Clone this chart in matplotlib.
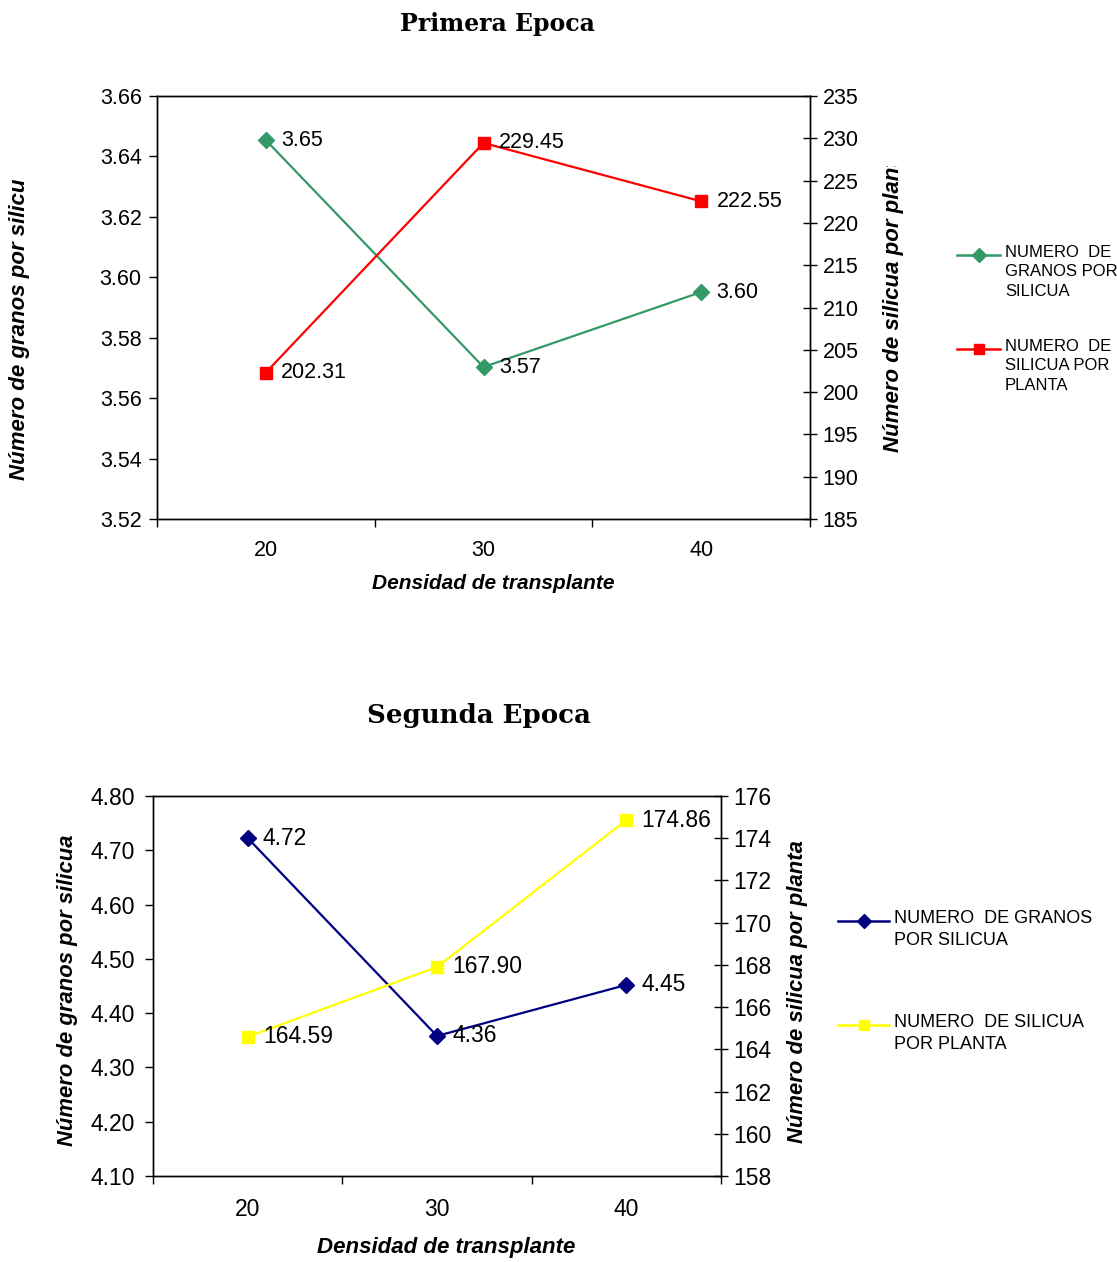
import matplotlib
matplotlib.use('Agg')
import matplotlib.pyplot as plt
from matplotlib.lines import Line2D
from matplotlib.ticker import FormatStrFormatter
from matplotlib.transforms import Bbox, TransformedBbox

# transplant densities (x categories)
densidades = ['20', '30', '40']

# first season
granos_primera = [3.6454, 3.5703, 3.5951]
silicua_primera = [202.31, 229.45, 222.55]

# second season
granos_segunda = [4.7226, 4.358, 4.452]
silicua_segunda = [164.59, 167.90, 174.86]

label_granos = 'Número de granos por silicua'
label_silicua = 'Número de silicua por planta'
label_x = 'Densidad de transplante'

W, H = 1117, 1262
SANS = ['Liberation Sans', 'DejaVu Sans']


def _rect(left, top, right, bottom):
    return [left / W, 1 - bottom / H, (right - left) / W, (bottom - top) / H]


def _fx(x):
    return x / W


def _fy(y):
    return 1 - y / H


def _clip_above(fig, y):
    # clip box covering everything below pixel row y
    return TransformedBbox(Bbox([[0, 0], [1, _fy(y)]]), fig.transFigure)


def _draw_chart(fig, rect, granos, silicua, g_color, s_color,
                ylim_left, step_left, ylim_right, step_right, fs, xpad, ypad):
    ax = fig.add_axes(rect)
    ax2 = ax.twinx()
    xs = list(range(len(densidades)))

    ax.plot(xs, granos, color=g_color, marker='D', markersize=8,
            linewidth=1.6, clip_on=False, zorder=3)
    ax2.plot(xs, silicua, color=s_color, marker='s', markersize=8,
             linewidth=1.6, clip_on=False, zorder=3)

    for x, v in zip(xs, granos):
        ax.annotate('%.2f' % v, (x, v), xytext=(11, 0), textcoords='offset points',
                    va='center', ha='left', fontsize=fs, family=SANS)
    for x, v in zip(xs, silicua):
        ax2.annotate('%.2f' % v, (x, v), xytext=(11, 0), textcoords='offset points',
                     va='center', ha='left', fontsize=fs, family=SANS)

    ax.set_xlim(-0.5, len(densidades) - 0.5)
    ax.set_xticks(xs)
    ax.set_xticklabels(densidades, family=SANS, fontsize=fs)
    ax.set_xticks([x - 0.5 for x in range(len(densidades) + 1)], minor=True)
    ax.tick_params(axis='x', which='major', length=0, pad=xpad)
    ax.tick_params(axis='x', which='minor', length=6, direction='out', width=1)

    lo, hi = ylim_left
    n = round((hi - lo) / step_left)
    ax.set_ylim(lo, hi)
    ax.set_yticks([lo + i * step_left for i in range(n + 1)])
    ax.yaxis.set_major_formatter(FormatStrFormatter('%.2f'))
    ax.tick_params(axis='y', length=6, direction='out', width=1, labelsize=fs, pad=ypad)

    lo, hi = ylim_right
    n = round((hi - lo) / step_right)
    ax2.set_ylim(lo, hi)
    ax2.set_yticks([lo + i * step_right for i in range(n + 1)])
    ax2.tick_params(axis='y', length=10, direction='inout', width=1, labelsize=fs, pad=4)

    for lab in ax.get_yticklabels() + ax2.get_yticklabels():
        lab.set_family(SANS)
    for a in (ax, ax2):
        for sp in a.spines.values():
            sp.set_linewidth(1)
    return ax, ax2


def _draw_legend(fig, entries, x0, x1, text_x, fs, spacing):
    for (label, color, marker, y) in entries:
        xm = (x0 + x1) / 2
        fig.add_artist(Line2D([_fx(x0), _fx(xm), _fx(x1)], [_fy(y)] * 3,
                              color=color, linewidth=1.8, marker=marker,
                              markersize=7.5, markevery=[1],
                              transform=fig.transFigure))
        fig.text(_fx(text_x), _fy(y - fs * 100 / 72 * 0.62), label, fontsize=fs,
                 family=SANS, va='top', ha='left', linespacing=spacing)


def _side_label(fig, x, y, text, fs, clip_y=None):
    t = fig.text(_fx(x), _fy(y), text, rotation=90, rotation_mode='anchor',
                 ha='left', va='center', fontsize=fs, weight='bold',
                 style='italic', family=SANS)
    if clip_y is not None:
        t.set_clip_box(_clip_above(fig, clip_y))
        t.set_clip_on(True)
    return t


fig = plt.figure(figsize=(W / 100, H / 100), dpi=100)

# Primera Epoca
ax, ax2 = _draw_chart(fig, _rect(157, 96, 810, 519), granos_primera, silicua_primera,
                      '#339966', '#FF0000', (3.52, 3.66), 0.02, (185, 235), 5,
                      15.5, 15, 5)
fig.text(_fx(497), _fy(24), 'Primera Epoca', fontsize=17, weight='bold',
         family='DejaVu Serif', ha='center', va='center')
ax.set_xlabel(label_x, fontsize=15, weight='bold', style='italic', family=SANS)
ax.xaxis.set_label_coords((493 - 157) / 653, -(583 - 519) / 423)
ax.xaxis.label.set_va('center')
_side_label(fig, 20, 480, label_granos, 16, clip_y=180)
_side_label(fig, 893, 452, label_silicua, 16, clip_y=166)
_draw_legend(fig, [('NUMERO  DE\nGRANOS POR\nSILICUA', '#339966', 'D', 255),
                   ('NUMERO  DE\nSILICUA POR\nPLANTA', '#FF0000', 's', 349)],
             957, 1000, 1005, 12, 1.4)

# Segunda Epoca
ax, ax2 = _draw_chart(fig, _rect(153, 796, 721, 1176), granos_segunda, silicua_segunda,
                      '#000080', '#FFFF00', (4.10, 4.80), 0.10, (158, 176), 2,
                      16.5, 16, 7)
fig.text(_fx(479), _fy(716), 'Segunda Epoca', fontsize=18.7, weight='bold',
         family='DejaVu Serif', ha='center', va='center')
ax.set_xlabel(label_x, fontsize=16, weight='bold', style='italic', family=SANS)
ax.xaxis.set_label_coords((446 - 153) / 568, -(1248 - 1176) / 380)
ax.xaxis.label.set_va('center')
_side_label(fig, 67, 1146, label_granos, 15.8)
_side_label(fig, 798, 1143, label_silicua, 15.8)
_draw_legend(fig, [('NUMERO  DE GRANOS\nPOR SILICUA', '#000080', 'D', 921),
                   ('NUMERO  DE SILICUA\nPOR PLANTA', '#FFFF00', 's', 1025)],
             838, 889, 894, 13, 1.38)

fig.savefig('out.png', dpi=100)
